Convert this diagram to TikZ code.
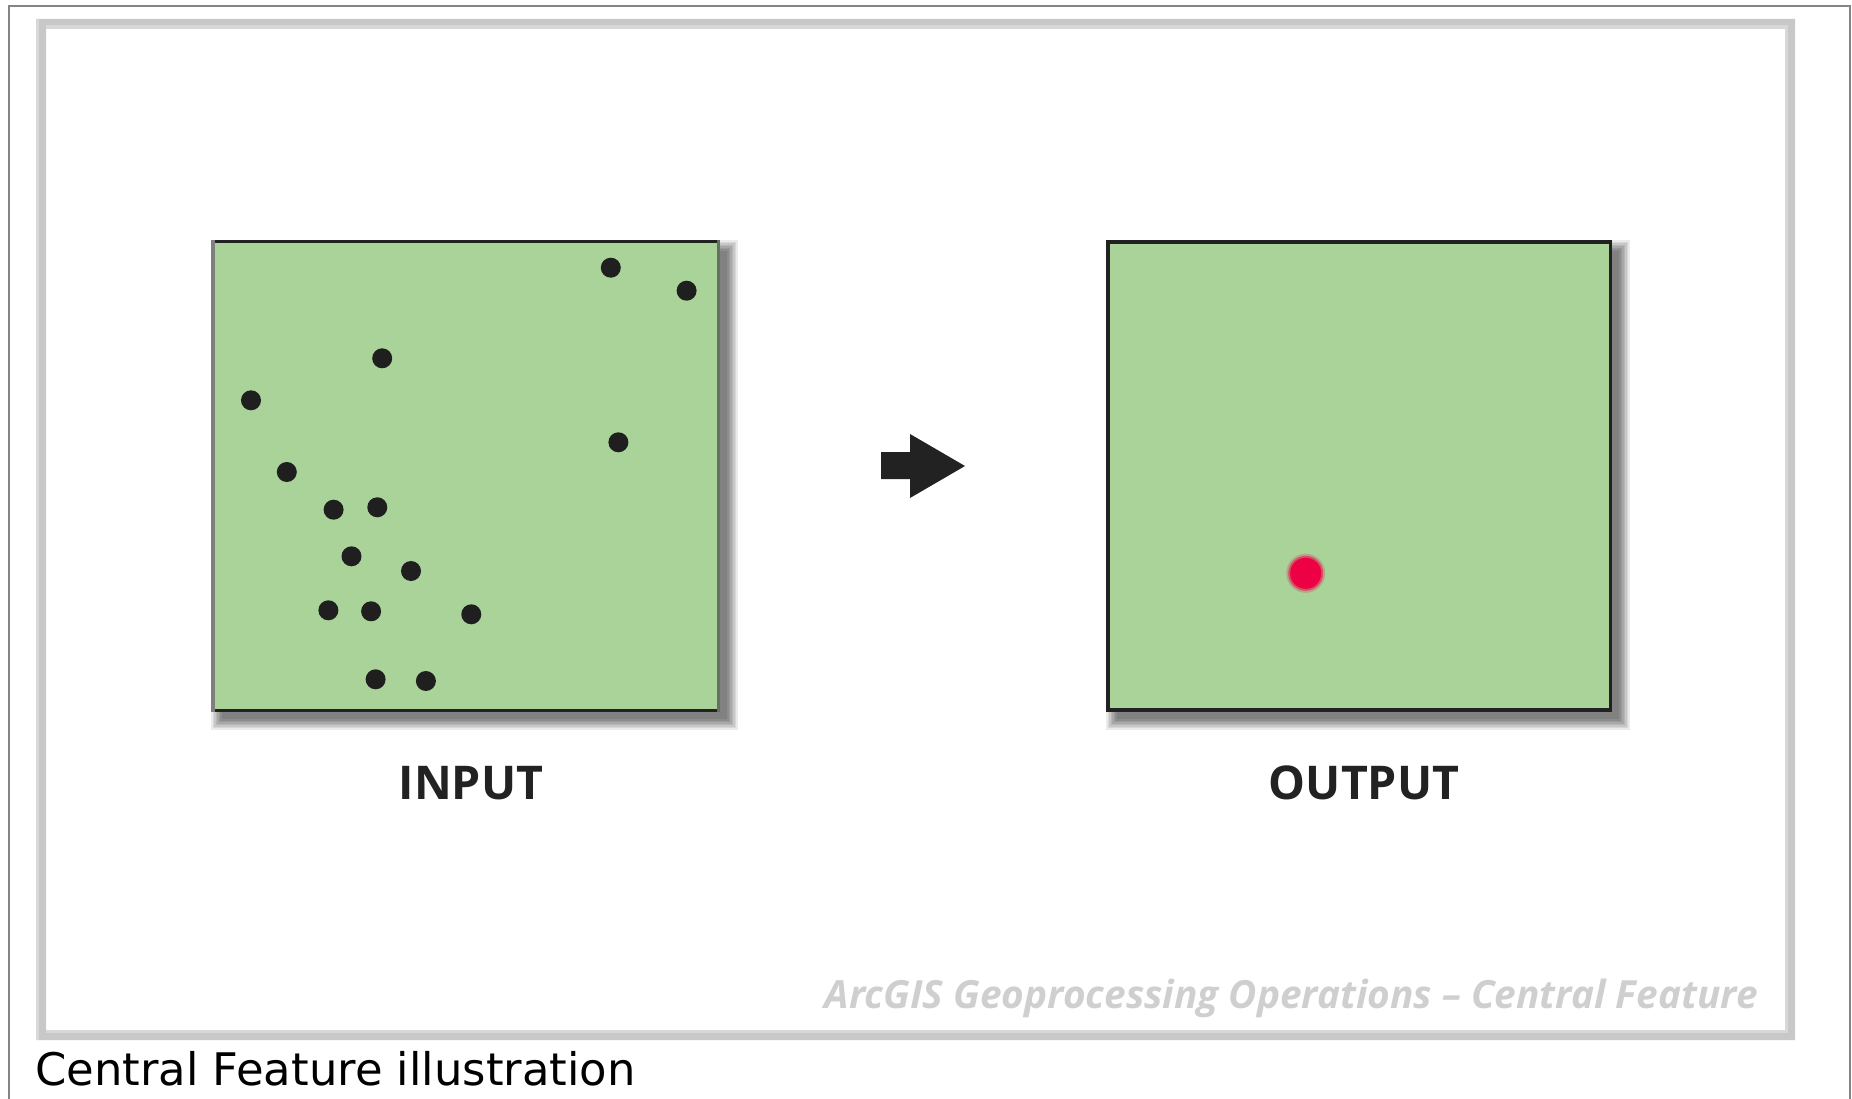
\documentclass[tikz,border=0pt]{standalone}
\usepackage{fontspec}
\setmainfont{Open Sans}
\newfontfamily\capfont{DejaVu Sans}
\usetikzlibrary{backgrounds}
\definecolor{panelgreen}{HTML}{A9D399}
\definecolor{boxline}{HTML}{222222}
\definecolor{dotblack}{HTML}{1F1F1F}
\definecolor{cfred}{HTML}{EE0044}
\definecolor{framegray}{HTML}{C8C8C8}
\definecolor{framelight}{HTML}{D8D8D8}
\definecolor{outergray}{HTML}{858585}
\definecolor{wmgray}{HTML}{CFCFCF}
\definecolor{sidegrayl}{HTML}{7F7F7F}
\definecolor{sidegrayr}{HTML}{66705E}
\begin{document}
\begin{tikzpicture}[x=1pt,y=-1pt,
  panel/.style={draw=boxline, line width=3.5pt, fill=panelgreen, inner sep=0pt, outer sep=0pt},
  ptdot/.style={circle, fill=dotblack, inner sep=0pt, minimum size=20pt},
  lbl/.style={font=\bfseries\fontsize{46.5}{50}\selectfont, text=boxline, inner sep=0pt, anchor=base},
  shadowlayer/.style={fill=black, opacity=0.08},
]
\useasboundingbox (0,0) rectangle (1852,1099);

% outer page border
\draw[outergray, line width=2pt] (9,1100) -- (9,6) -- (1850,6) -- (1850,1100);

% light frame
\fill[framegray, even odd rule] (36,19) rectangle (1795,1040) (46,29) rectangle (1785,1030);
\fill[framelight] (46,25) rectangle (1788,29);
\fill[framelight] (1785,25) rectangle (1788,1030);
\fill[framelight] (46,1030) rectangle (1788,1033);
\fill[framelight] (36,19) rectangle (39,1040);

% panels
\node[panel, minimum width=505.5pt, minimum height=468.5pt] (inbox) at (465.5,476) {};
\node[panel, minimum width=502.5pt, minimum height=468pt] (outbox) at (1359,476) {};
\draw[sidegrayl, line width=3.5pt] ([yshift=1.75pt]inbox.north west) -- ([yshift=-1.75pt]inbox.south west);
\draw[sidegrayr, line width=3.5pt] ([yshift=1.75pt]inbox.north east) -- ([yshift=-1.75pt]inbox.south east);

\begin{pgfonlayer}{background}
  \fill[white] (0,0) rectangle (1852,1099);
  \foreach \b in {inbox,outbox}
    \foreach \r in {0,1.5,...,10.5}
      \fill[shadowlayer] ([shift={(9-\r,9-\r)}]\b.north west) rectangle ([shift={(9+\r,9+\r)}]\b.south east);
\end{pgfonlayer}

% input points
\foreach \x/\y [count=\i] in {610.8/267.7, 686.6/290.7, 382.2/358.3, 251/400.3, 618.4/442.3,
    286.8/472, 333.6/509.7, 377.3/507.3, 351.5/556.3, 411/571,
    328.4/610.3, 371.1/611.3, 471.3/614.3, 375.6/679.3, 425.9/681}
  \node[ptdot] (d\i) at (\x,\y) {};

% central feature
\node[circle, fill=cfred, inner sep=0pt, minimum size=31pt] (cf) at (1305.7,573.3) {};
\fill[cfred, opacity=0.5] (cf.center) circle (17.5);
\fill[cfred, opacity=0.22] (cf.center) circle (19.5);

% block arrow
\fill[boxline] (881,452) -- (910,452) -- (910,434) -- (965,466) -- (910,498) -- (910,479) -- (881,479) -- cycle;

% labels
\node[lbl] (inlbl) at (471,799) {INPUT};
\node[lbl] (outlbl) at (1364,799) {OUTPUT};

\node[anchor=base east, inner sep=0pt, text=wmgray, font=\bfseries\itshape\fontsize{38.8}{42}\selectfont] (wm) at (1758,1008) {ArcGIS Geoprocessing Operations – Central Feature};

\node[anchor=base west, inner sep=0pt, font=\capfont\fontsize{44.9}{50}\selectfont] (cap) at (35,1085) {Central Feature illustration};
\end{tikzpicture}
\end{document}
